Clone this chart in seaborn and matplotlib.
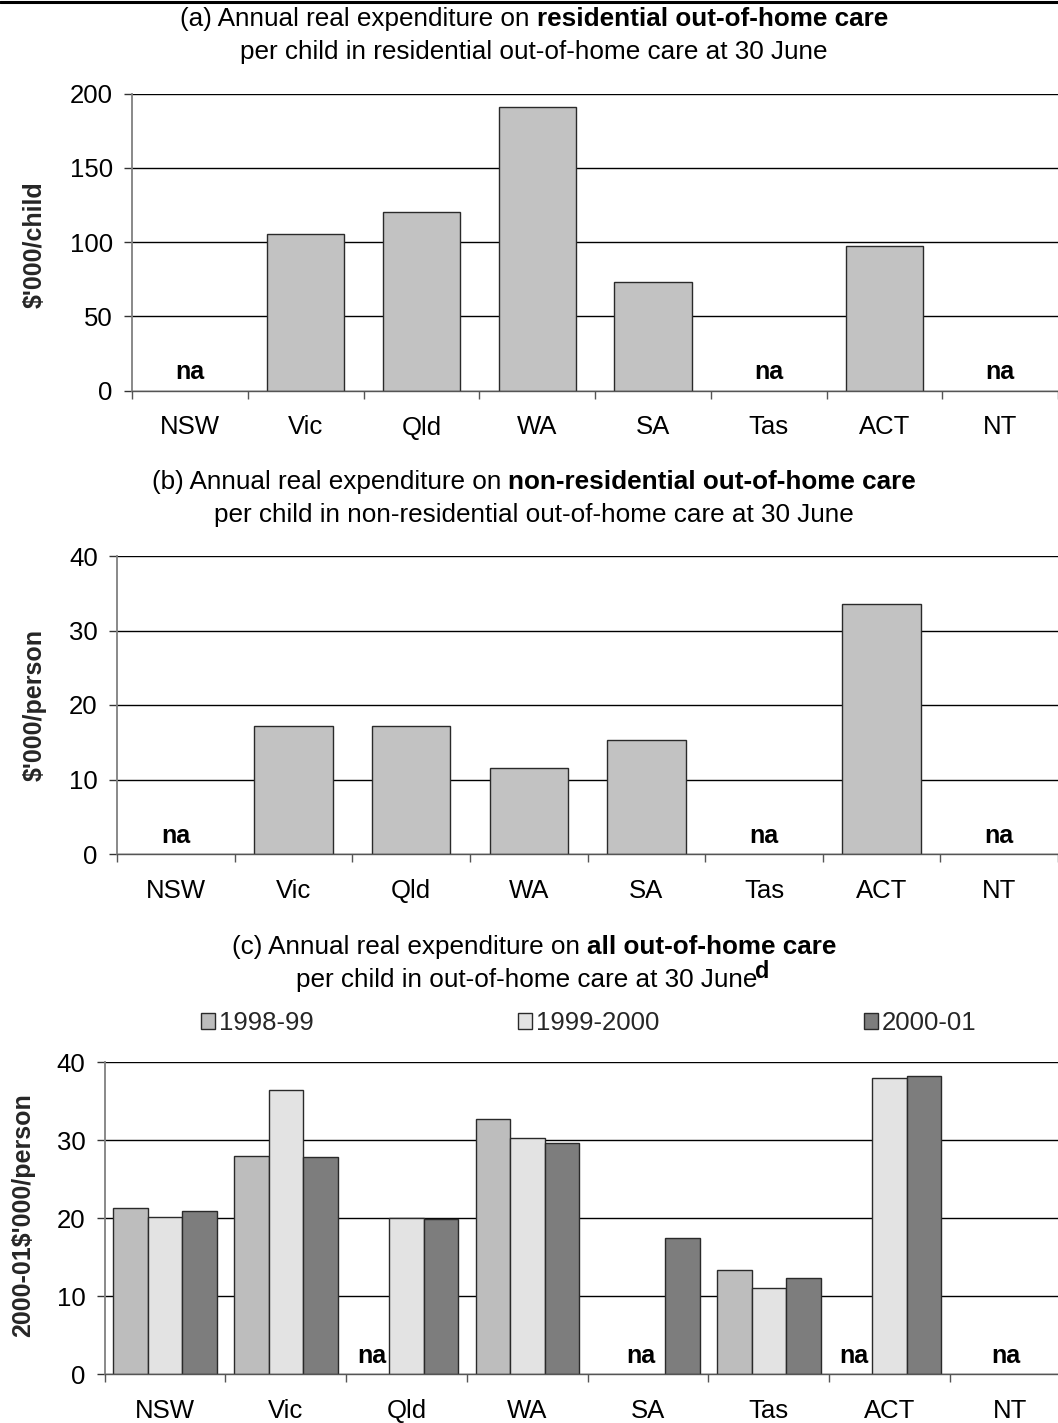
import numpy as np
import pandas as pd
import matplotlib
matplotlib.use("Agg")
import matplotlib.pyplot as plt
from matplotlib.lines import Line2D
import seaborn as sns

# ---------------- data ----------------
states = ["NSW", "Vic", "Qld", "WA", "SA", "Tas", "ACT", "NT"]

# (a) residential out-of-home care, $'000 per child
resid = [np.nan, 105.7, 119.9, 190.8, 73.3, np.nan, 97.6, np.nan]
# (b) non-residential out-of-home care, $'000 per person
nonresid = [np.nan, 17.2, 17.2, 11.6, 15.3, np.nan, 33.5, np.nan]
# (c) all out-of-home care, by year
years = ["1998-99", "1999-2000", "2000-01"]
all_9899 = [21.3, 28.0, np.nan, 32.7, np.nan, 13.4, np.nan, np.nan]
all_9900 = [20.2, 36.4, 20.0, 30.3, np.nan, 11.0, 38.0, np.nan]
all_0001 = [20.9, 27.9, 19.9, 29.7, 17.4, 12.3, 38.3, np.nan]

# "na" annotations: (state, x offset within group)
na_a = [("NSW", 0.0), ("Tas", 0.0), ("NT", 0.0)]
na_b = [("NSW", 0.0), ("Tas", 0.0), ("NT", 0.0)]
na_c = [("Qld", -0.287), ("SA", -0.06), ("ACT", -0.30), ("NT", -0.04)]

# ---------------- style ----------------
sns.set_theme(style="white")
plt.rcParams["font.family"] = ["Liberation Sans", "DejaVu Sans"]

W, H = 1058, 1423
fig = plt.figure(figsize=(W / 100, H / 100), dpi=100)

TICK_FS = 18.5
TITLE_FS = 18.8
YLAB_FS = 18
NA_FS = 18
LEG_FS = 18.5

single_color = "#c2c2c2"
year_colors = ["#bdbdbd", "#e3e3e3", "#7d7d7d"]
edge = "#2a2a2a"


def px_axes(l, t, r, b):
    return fig.add_axes([l / W, 1 - b / H, (r - l) / W, (b - t) / H])


def style_axes(ax, ymax, ystep, xmax=7.5):
    ax.set_ylim(0, ymax)
    ax.set_yticks(np.arange(0, ymax + ystep / 2, ystep))
    ax.set_xticks(np.arange(-0.5, 8, 1.0))
    ax.set_xticklabels([])
    ax.set_xticks(np.arange(8), minor=True)
    ax.set_xticklabels(states, minor=True)
    ax.set_xlim(-0.5, xmax)
    ax.set_xlabel("")
    ax.grid(False)
    ax.yaxis.grid(True, color="black", linewidth=1.0)
    ax.set_axisbelow(True)
    for s in ["top", "right"]:
        ax.spines[s].set_visible(False)
    ax.spines["left"].set_color("#808080")
    ax.spines["left"].set_linewidth(1.3)
    ax.spines["bottom"].set_color("#555555")
    ax.spines["bottom"].set_linewidth(1.0)
    ax.tick_params(axis="y", which="major", left=True, length=6, width=1,
                   color="#333333", pad=8, labelsize=TICK_FS, labelcolor="black")
    ax.tick_params(axis="x", which="major", bottom=True, length=6, width=1,
                   color="#555555")
    ax.tick_params(axis="x", which="minor", bottom=True, length=0, pad=18,
                   labelsize=TICK_FS, labelcolor="black")


def add_na(ax, items):
    for st, dx in items:
        ax.annotate("na", xy=(states.index(st) + dx, 0), xytext=(0, 13),
                    textcoords="offset points", ha="center", va="center",
                    fontsize=NA_FS, fontweight="bold", color="black")


def mixed_line(y_px, parts, cx_px, size, sup=None):
    texts = []
    for s, w in parts:
        texts.append(fig.text(0, 1 - y_px / H, s, fontsize=size, fontweight=w,
                              ha="left", va="center", color="black"))
    fig.canvas.draw()
    r = fig.canvas.get_renderer()
    widths = [t.get_window_extent(r).width for t in texts]
    sup_t = None
    sup_w = 0
    if sup is not None:
        sup_t = fig.text(0, 1 - (y_px - 9) / H, sup, fontsize=size - 2,
                         fontweight="bold", ha="left", va="center", color="black")
        sup_w = sup_t.get_window_extent(r).width
    x = cx_px - (sum(widths) + sup_w) / 2
    for t, w in zip(texts, widths):
        t.set_x(x / W)
        x += w
    if sup_t is not None:
        sup_t.set_x((x - 2) / W)


# top rule
fig.add_artist(Line2D([0, 1], [1 - 2 / H, 1 - 2 / H], color="black",
                      linewidth=2.2, transform=fig.transFigure))

# ---------------- panel (a) ----------------
ax_a = px_axes(132.3, 93.5, 1058, 390.5)
df_a = pd.DataFrame({"state": states, "value": resid}).dropna()
sns.barplot(data=df_a, x="state", y="value", order=states, color=single_color,
            saturation=1, width=0.667, edgecolor=edge, linewidth=1.0, ax=ax_a)
style_axes(ax_a, 200, 50)
ax_a.set_ylabel("$'000/child", fontsize=YLAB_FS, fontweight="bold", va="center")
ax_a.yaxis.set_label_coords(35 / W, 1 - 245 / H, transform=fig.transFigure)
add_na(ax_a, na_a)
mixed_line(19, [("(a) Annual real expenditure on ", "normal"),
                ("residential out-of-home care", "bold")], 534, TITLE_FS)
mixed_line(52, [("per child in residential out-of-home care at 30 June", "normal")],
           534, TITLE_FS)

# ---------------- panel (b) ----------------
ax_b = px_axes(117.3, 556, 1058, 854)
df_b = pd.DataFrame({"state": states, "value": nonresid}).dropna()
sns.barplot(data=df_b, x="state", y="value", order=states, color=single_color,
            saturation=1, width=0.667, edgecolor=edge, linewidth=1.0, ax=ax_b)
style_axes(ax_b, 40, 10)
ax_b.set_ylabel("$'000/person", fontsize=YLAB_FS, fontweight="bold", va="center")
ax_b.yaxis.set_label_coords(35 / W, 1 - 705 / H, transform=fig.transFigure)
add_na(ax_b, na_b)
mixed_line(482, [("(b) Annual real expenditure on ", "normal"),
                 ("non-residential out-of-home care", "bold")], 534, TITLE_FS)
mixed_line(515, [("per child in non-residential out-of-home care at 30 June", "normal")],
           534, TITLE_FS)

# ---------------- panel (c) ----------------
ax_c = px_axes(104.7, 1062.3, 1058, 1374)
df_c = pd.DataFrame({
    "state": states * 3,
    "year": [years[0]] * 8 + [years[1]] * 8 + [years[2]] * 8,
    "value": all_9899 + all_9900 + all_0001,
}).dropna()
sns.barplot(data=df_c, x="state", y="value", hue="year", order=states,
            hue_order=years, palette=year_colors, saturation=1, width=0.857,
            edgecolor=edge, linewidth=1.0, ax=ax_c)
style_axes(ax_c, 40, 10, xmax=7.5 - 12.7 / 121)
ax_c.set_ylabel("2000-01$'000/person", fontsize=YLAB_FS, fontweight="bold",
                va="center")
ax_c.yaxis.set_label_coords(23 / W, 1 - 1215 / H, transform=fig.transFigure)
add_na(ax_c, na_c)
handles, labels = ax_c.get_legend_handles_labels()
ax_c.get_legend().remove()
fig.legend(handles, labels, loc="center left",
           bbox_to_anchor=(201 / W, 1 - 1023 / H), ncol=3, frameon=False,
           fontsize=LEG_FS, handlelength=0.55, handleheight=0.55,
           handletextpad=0.15, columnspacing=7.95, borderpad=0, borderaxespad=0)
mixed_line(947, [("(c) Annual real expenditure on ", "normal"),
                 ("all out-of-home care", "bold")], 534, TITLE_FS)
mixed_line(980, [("per child in out-of-home care at 30 June", "normal")],
           534, TITLE_FS, sup="d")

fig.savefig("out.png", dpi=100)
